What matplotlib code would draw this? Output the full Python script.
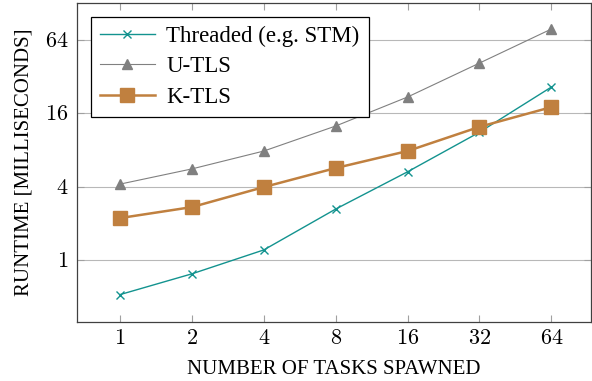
import matplotlib
matplotlib.use("Agg")
import matplotlib.pyplot as plt
from matplotlib.ticker import FixedLocator, FixedFormatter, NullLocator

plt.rcParams['font.family'] = ['Liberation Serif', 'DejaVu Serif']
plt.rcParams['mathtext.fontset'] = 'cm'

# number of tasks spawned
tasks = [1, 2, 4, 8, 16, 32, 64]
# runtime in milliseconds
threaded = [0.52, 0.77, 1.21, 2.62, 5.3, 11.2, 26.3]
u_tls = [4.2, 5.6, 7.85, 12.6, 21.8, 41.4, 78.8]
k_tls = [2.21, 2.72, 3.97, 5.69, 7.85, 12.4, 18.0]

x_ticks = tasks
y_ticks = [1, 4, 16, 64]

fig = plt.figure(figsize=(5.92, 3.81), dpi=100)
ax = fig.add_axes([0.130, 0.155, 0.868, 0.837])

ax.plot(tasks, threaded, color='#13938f', lw=1.0, marker='x', ms=6, mew=1.0,
        label='Threaded (e.g. STM)', zorder=3)
ax.plot(tasks, u_tls, color='#808080', lw=0.8, marker='^', ms=7,
        label='U-TLS', zorder=3)
ax.plot(tasks, k_tls, color='#c0803f', lw=1.8, marker='s', ms=10,
        label='K-TLS', zorder=3)

ax.set_xscale('log', base=2)
ax.set_yscale('log', base=2)
ax.set_xlim(2 ** -0.6, 2 ** 6.55)
ax.set_ylim(2 ** -1.69, 2 ** 7.01)

ax.xaxis.set_major_locator(FixedLocator(x_ticks))
ax.xaxis.set_major_formatter(FixedFormatter([f'${t}$' for t in x_ticks]))
ax.xaxis.set_minor_locator(NullLocator())
ax.yaxis.set_major_locator(FixedLocator(y_ticks))
ax.yaxis.set_major_formatter(FixedFormatter([f'${t}$' for t in y_ticks]))
ax.yaxis.set_minor_locator(NullLocator())

ax.tick_params(axis='both', which='major', direction='in', length=5, width=0.8,
               color='#a0a0a0', labelsize=16, top=True, right=True, pad=6)
ax.grid(axis='y', color='#b8b8b8', lw=0.8)
ax.set_axisbelow(True)
for s in ax.spines.values():
    s.set_color('#404040')
    s.set_linewidth(0.9)

ax.set_xlabel('NUMBER OF TASKS SPAWNED', fontsize=15, labelpad=8)
ax.set_ylabel('RUNTIME [MILLISECONDS]', fontsize=15, labelpad=8)

leg = ax.legend(loc='upper left', fontsize=16.5, frameon=True, fancybox=False,
                edgecolor='black', framealpha=1, borderaxespad=0.6,
                handlelength=2.4, handletextpad=0.5, borderpad=0.4,
                labelspacing=0.4)
leg.get_frame().set_linewidth(0.9)

fig.savefig('out.png', dpi=100)
